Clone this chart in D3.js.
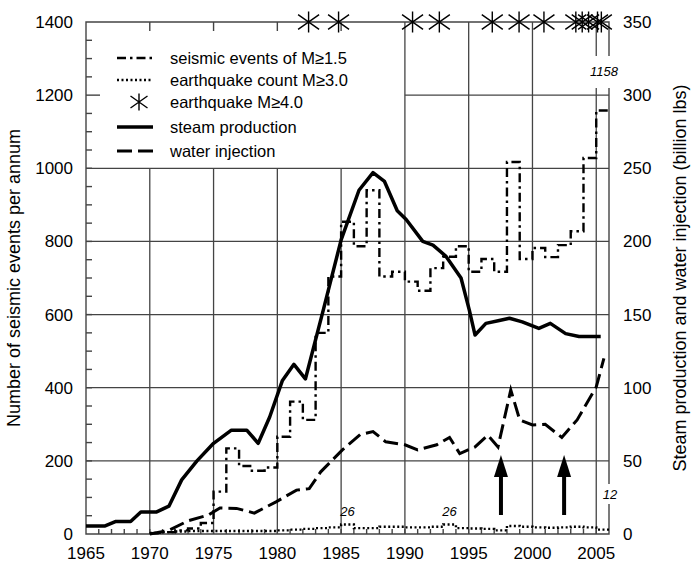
<!DOCTYPE html>
<html>
<head>
<meta charset="utf-8">
<script src="https://cdn.jsdelivr.net/npm/d3@7"></script>
<style>
  body { margin: 0; background: #fff; }
  svg text { font-family: Arial, "Liberation Sans", sans-serif; }
</style>
</head>
<body>
<div id="chart"></div>
<script>
// seismic events of M>=1.5, annual steps (left axis)
const seismicYears = [1970,1971,1972,1973,1974,1975,1976,1977,1978,1979,1980,1981,1982,1983,1984,1985,1986,1987,1988,1989,1990,1991,1992,1993,1994,1995,1996,1997,1998,1999,2000,2001,2002,2003,2004,2005];
const seismicCounts = [2,5,10,15,30,116,234,186,173,182,266,362,312,550,704,854,787,940,704,717,690,665,727,758,787,717,752,717,1017,752,782,757,790,828,1028,1158];

// earthquake count M>=3.0, annual steps (left axis)
const quakeYears = [1970,1971,1972,1973,1974,1975,1976,1977,1978,1979,1980,1981,1982,1983,1984,1985,1986,1987,1988,1989,1990,1991,1992,1993,1994,1995,1996,1997,1998,1999,2000,2001,2002,2003,2004,2005];
const quakeCounts = [3,5,7,8,8,8,8,8,8,8,10,12,14,16,18,26,16,16,20,20,18,18,20,26,16,15,14,10,22,20,18,17,18,20,18,12];

// earthquakes M>=4.0 (time of event)
const bigQuakeYears = [1982.45,1984.8,1990.6,1992.7,1996.85,1998.95,2000.9,2003.4,2003.9,2004.4,2005.1,2005.4];

// steam production, billion lbs (right axis)
const steamYears = [1965,1966.5,1967.3,1968.5,1969.3,1970.5,1971.5,1972.5,1973.7,1975,1976.4,1977.6,1978.5,1979.4,1980.4,1981.3,1982.2,1983.6,1985,1986.4,1987.5,1988.4,1989.4,1990.1,1991.4,1992.2,1993.2,1994.4,1995.05,1995.5,1996.35,1997.4,1998.2,1999.2,2000.5,2001.4,2002.6,2003.65,2005.35];
const steamValues = [5.5,5.5,8.5,8.5,15,15,19,37,50,62,71,71,62,80,105,116,106,153,201,235,247,241,221,215,200,197.5,190,175,153,136,144,146,147.5,145,140.5,144,137,135,135];

// water injection, billion lbs (right axis)
const waterYears = [1970,1971.5,1973,1974.6,1975.5,1976.8,1978.2,1979.9,1981.5,1982.5,1983.4,1985.1,1986.5,1987.5,1988.5,1990,1991,1992.5,1993.5,1994.3,1995.5,1996.5,1997.3,1998.3,1999,2000,2001,2002.3,2003.5,2005,2005.6];
const waterValues = [0,2.5,9,13,17.8,17.5,14.3,22,30,31,42.5,57.5,68,70,63,61,57.5,61,66,55,59.5,67.5,59.5,98.5,78,74.5,75,66,78,100.5,120];

// arrows marking years of interest
const arrowYears = [1997.53, 2002.48];

// axis ticks
const xTickYears = [1965,1970,1975,1980,1985,1990,1995,2000,2005];
const leftTicks = [0,200,400,600,800,1000,1200,1400];
const rightTicks = [0,50,100,150,200,250,300,350];

const width = 694, height = 565;
const x = d3.scaleLinear().domain([1965, 2006]).range([86, 609]);
const y = d3.scaleLinear().domain([0, 1400]).range([534, 22]);
const yR = d3.scaleLinear().domain([0, 350]).range([534, 22]);

const svg = d3.select('#chart').append('svg')
    .attr('width', width)
    .attr('height', height);

const gridColor = '#444';

// vertical grid: left of 1990 stops at 1000 (legend area), rest full height
const grid = svg.append('g').attr('stroke', gridColor).attr('stroke-width', 1.3);
grid.selectAll('line.v')
  .data(xTickYears.filter(d => d > 1965))
  .join('line')
    .attr('x1', d => x(d)).attr('x2', d => x(d))
    .attr('y1', d => d < 1990 ? y(1000) : y(1400))
    .attr('y2', y(0));

// horizontal grid
grid.selectAll('line.h')
  .data(leftTicks.filter(d => d > 0 && d < 1400))
  .join('line')
    .attr('x1', d => d === 1200 ? x(1990) : x(1965))
    .attr('x2', x(2006))
    .attr('y1', d => y(d)).attr('y2', d => y(d));

// frame
const frame = svg.append('g').attr('stroke', gridColor).attr('stroke-width', 1.4).attr('fill', 'none');
frame.append('path')
  .attr('d', `M${x(1965)},${y(1400)}H${x(2006)}V${y(0)}H${x(1965)}Z`);

// minor ticks on the left axis, every 50
frame.selectAll('line.lt')
  .data(d3.range(50, 1400, 50))
  .join('line')
    .attr('x1', x(1965))
    .attr('x2', d => d === 1200 ? x(1965) + 14 : x(1965) + 6)
    .attr('y1', d => y(d)).attr('y2', d => y(d));

// year ticks on the bottom axis
frame.selectAll('line.bt')
  .data(d3.range(1966, 2006))
  .join('line')
    .attr('x1', d => x(d)).attr('x2', d => x(d))
    .attr('y1', y(0)).attr('y2', y(0) - 5);

// ticks hanging from the top in the legend area
frame.selectAll('line.tt')
  .data([1970, 1975, 1980, 1985])
  .join('line')
    .attr('x1', d => x(d)).attr('x2', d => x(d))
    .attr('y1', y(1400)).attr('y2', y(1400) + 9);

// tick labels
svg.append('g')
  .selectAll('text')
  .data(xTickYears)
  .join('text')
    .attr('x', d => x(d))
    .attr('y', 559)
    .attr('text-anchor', 'middle')
    .attr('font-size', 17)
    .text(d => d);

svg.append('g')
  .selectAll('text')
  .data(leftTicks)
  .join('text')
    .attr('x', 73)
    .attr('y', d => y(d) + 6)
    .attr('text-anchor', 'end')
    .attr('font-size', 17)
    .text(d => d);

svg.append('g')
  .selectAll('text')
  .data(rightTicks)
  .join('text')
    .attr('x', 623)
    .attr('y', d => yR(d) + 6)
    .attr('font-size', 17)
    .text(d => d);

// axis titles
svg.append('text')
  .attr('transform', `translate(20, ${y(700)}) rotate(-90)`)
  .attr('text-anchor', 'middle')
  .attr('font-size', 18)
  .text('Number of seismic events per annum');

svg.append('text')
  .attr('transform', `translate(686, ${y(700)}) rotate(-90)`)
  .attr('text-anchor', 'middle')
  .attr('font-size', 18)
  .text('Steam production and water injection (billion lbs)');

// label gaps and value labels
svg.append('rect')
  .attr('x', 588).attr('y', 56).attr('width', 32).attr('height', 32)
  .attr('fill', '#fff');
svg.append('text')
  .attr('x', 604).attr('y', 76)
  .attr('text-anchor', 'middle')
  .attr('font-size', 13).attr('font-style', 'italic')
  .text(seismicCounts[seismicCounts.length - 1]);

svg.append('rect')
  .attr('x', 601).attr('y', 484).attr('width', 18).attr('height', 20)
  .attr('fill', '#fff');
svg.append('text')
  .attr('x', 610).attr('y', 499)
  .attr('text-anchor', 'middle')
  .attr('font-size', 13).attr('font-style', 'italic')
  .text(quakeCounts[quakeCounts.length - 1]);

svg.append('g')
  .selectAll('text')
  .data(quakeYears.map((d, i) => ({year: d, value: quakeCounts[i]})).filter(d => d.value === 26))
  .join('text')
    .attr('x', d => x(d.year + 0.5))
    .attr('y', 516)
    .attr('text-anchor', 'middle')
    .attr('font-size', 13).attr('font-style', 'italic')
    .text(d => d.value);

// series
const stepData = (years, vals) => {
  const pts = years.map((d, i) => ({year: d, value: vals[i]}));
  pts.push({year: years[years.length - 1] + 1, value: vals[vals.length - 1]});
  return pts;
};

const stepLine = d3.line()
    .curve(d3.curveStepAfter)
    .x(d => x(d.year))
    .y(d => y(d.value));

svg.append('path')
  .attr('d', stepLine(stepData(quakeYears, quakeCounts)))
  .attr('fill', 'none')
  .attr('stroke', '#000')
  .attr('stroke-width', 2.4)
  .attr('stroke-dasharray', '2,2.5');

svg.append('path')
  .attr('d', stepLine(stepData(seismicYears, seismicCounts)))
  .attr('fill', 'none')
  .attr('stroke', '#000')
  .attr('stroke-width', 2.4)
  .attr('stroke-dasharray', '9,4,2.5,4');

const rLine = d3.line()
    .x(d => x(d.year))
    .y(d => yR(d.value));

svg.append('path')
  .attr('d', rLine(waterYears.map((d, i) => ({year: d, value: waterValues[i]}))))
  .attr('fill', 'none')
  .attr('stroke', '#000')
  .attr('stroke-width', 3)
  .attr('stroke-dasharray', '15,6');

svg.append('path')
  .attr('d', rLine(steamYears.map((d, i) => ({year: d, value: steamValues[i]}))))
  .attr('fill', 'none')
  .attr('stroke', '#000')
  .attr('stroke-width', 3.5)
  .attr('stroke-linejoin', 'round');

// asterisk marker: vertical bar plus an X
function asterisk(sel, cx, cy, r) {
  const a = r, b = r * 0.7;
  sel.append('path')
    .attr('d', `M${cx},${cy - r}V${cy + r}M${cx - a},${cy - b}L${cx + a},${cy + b}M${cx - a},${cy + b}L${cx + a},${cy - b}`)
    .attr('stroke', '#000')
    .attr('stroke-width', 1.4)
    .attr('fill', 'none');
}

const stars = svg.append('g');
bigQuakeYears.forEach(d => asterisk(stars, x(d), y(1400), 10.5));

// arrows
const arrows = svg.append('g').attr('fill', '#000').attr('stroke', '#000');
arrowYears.forEach(d => {
  const ax = x(d);
  arrows.append('line')
    .attr('x1', ax).attr('x2', ax)
    .attr('y1', 515).attr('y2', 472)
    .attr('stroke-width', 4);
  arrows.append('path')
    .attr('d', `M${ax},455L${ax + 7},477L${ax - 7},477Z`)
    .attr('stroke', 'none');
});

// legend
const legendRows = [
  {label: 'seismic events of M\u22651.5', dash: '9,4,2.5,4', width: 2.4},
  {label: 'earthquake count M\u22653.0', dash: '2,2.5', width: 2.4},
  {label: 'earthquake M\u22654.0', star: true},
  {label: 'steam production', dash: null, width: 3.5},
  {label: 'water injection', dash: '15,6', width: 3}
];
const legendY = [58, 80, 102, 127, 151];

const legend = svg.append('g');
legendRows.forEach((d, i) => {
  const ly = legendY[i];
  if (d.star) {
    asterisk(legend, 139, ly, 8.5);
  } else {
    legend.append('line')
      .attr('x1', 117).attr('x2', 153)
      .attr('y1', ly).attr('y2', ly)
      .attr('stroke', '#000')
      .attr('stroke-width', d.width)
      .attr('stroke-dasharray', d.dash);
  }
  legend.append('text')
    .attr('x', 170)
    .attr('y', ly + 6)
    .attr('font-size', 16.5)
    .text(d.label);
});
</script>
</body>
</html>
